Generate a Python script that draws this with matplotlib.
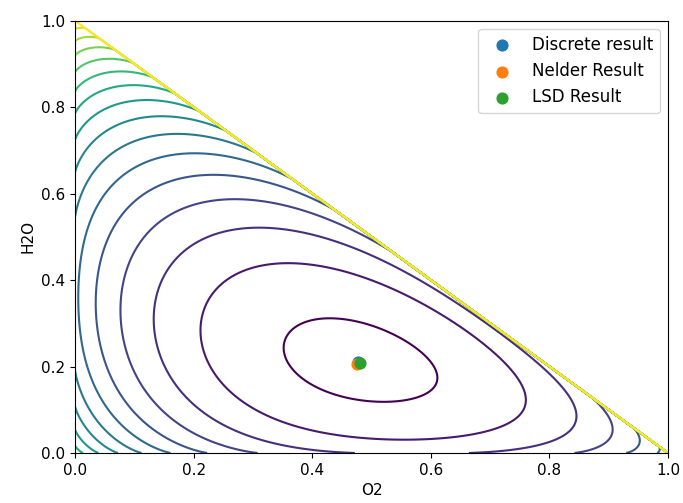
import numpy as np
import matplotlib
matplotlib.use("Agg")
import matplotlib.pyplot as plt

# points picked off the contour lines of the reference: O2, H2O, contour number (1 = innermost)
trace_o2 = [0.346, 0.62, 0.42, 0.53,
            0.219, 0.756, 0.351, 0.379, 0.632,
            0.143, 0.295, 0.379, 0.553, 0.627, 0.843, 0.776, 0.60, 0.65, 0.70, 0.75, 0.80,
            0.093, 0.261, 0.337, 0.837, 0.905, 0.509, 0.885,
            0.051, 0.051, 0.233, 0.241, 0.925, 0.953, 0.42, 0.949,
            0.020, 0.017, 0.211, 0.174, 0.981, 0.987, 0.351, 0.983, 0.0,
            0.003, 0.0, 0.118, 0.0, 0.177, 0.298,
            0.0, 0.076, 0.0, 0.16, 0.25,
            0.0, 0.039, 0.0, 0.205,
            0.0, 0.005, 0.0,
            0.0, 0.0, 0.0, 0.0, 0.0]
trace_h2o = [0.243, 0.176, 0.317, 0.116,
             0.21, 0.10, 0.435, 0.069, 0.035,
             0.21, 0.516, 0.018, 0.0, 0.0, 0.09, 0.21, 0.39, 0.34, 0.29, 0.24, 0.19,
             0.21, 0.582, 0.0, 0.0, 0.053, 0.491, 0.115,
             0.21, 0.40, 0.632, 0.0, 0.0, 0.026, 0.58, 0.051,
             0.21, 0.40, 0.682, 0.0, 0.0, 0.007, 0.649, 0.017, 0.52,
             0.21, 0.245, 0.0, 0.585, 0.725, 0.702,
             0.116, 0.0, 0.659, 0.767, 0.75,
             0.046, 0.0, 0.728, 0.795,
             0.01, 0.0, 0.782,
             0.833, 0.877, 0.917, 0.952, 0.983]
trace_level = [1, 1, 1, 1,
               2, 2, 2, 2, 2,
               3, 3, 3, 3, 3, 3, 3, 3, 3, 3, 3, 3,
               4, 4, 4, 4, 4, 4, 4,
               5, 5, 5, 5, 5, 5, 5, 5,
               6, 6, 6, 6, 6, 6, 6, 6, 6,
               7, 7, 7, 7, 7, 7,
               8, 8, 8, 8, 8,
               9, 9, 9, 9,
               10, 10, 10,
               11, 12, 13, 14, 15]

# optimiser results (they sit almost on top of each other)
result_labels = ['Discrete result', 'Nelder Result', 'LSD Result']
result_o2 = [0.478, 0.476, 0.480]
result_h2o = [0.211, 0.205, 0.208]
best = [0.48, 0.21, 0.31]  # O2, H2O, rest at the optimum

contour_levels = np.arange(1, 17)


def xlogx(v):
    v = np.clip(np.asarray(v, float), 0, None)
    out = np.zeros_like(v)
    m = v > 0
    out[m] = v[m] * np.log(v[m])
    return out


def divergence(o2, h2o):
    # KL divergence of the composition from the optimum, in contour steps
    o2 = np.asarray(o2, float)
    h2o = np.asarray(h2o, float)
    rest = 1 - o2 - h2o
    kl = (xlogx(o2) + xlogx(h2o) + xlogx(rest)
          - o2 * np.log(best[0]) - h2o * np.log(best[1]) - rest * np.log(best[2]))
    return (kl - 0.06) / 0.115 + 1


def bend(o2, h2o):
    dx = np.asarray(o2, float) - best[0]
    dy = np.asarray(h2o, float) - best[1]
    return np.stack([np.ones_like(dx), dx * dx, dx * dy, dy * dy,
                     dx**3, dx * dx * dy, dx * dy * dy, dy**3], axis=-1)


# correction so the surface passes through the traced points
# (innermost ring counted a bit more, it is the clearest one)
w = np.where(np.array(trace_level) == 1, 3.0, 1.0)
base = divergence(trace_o2, trace_h2o)
coef = np.linalg.lstsq(bend(trace_o2, trace_h2o) * w[:, None],
                       (np.array(trace_level) - base) * w, rcond=None)[0]

grid = np.linspace(0, 1, 500)
X, Y = np.meshgrid(grid, grid)
Z = divergence(X, Y) + bend(X, Y) @ coef
Z[X + Y > 1 + 1e-9] = 100  # infeasible compositions

plt.rcParams['font.size'] = 11

fig, ax = plt.subplots(figsize=(6.83, 5.03), dpi=100)
fig.subplots_adjust(left=0.1098, right=0.978, bottom=0.0994, top=0.959)

ax.contour(X, Y, Z, levels=contour_levels, cmap='viridis')
for lab, xo, yo in zip(result_labels, result_o2, result_h2o):
    ax.scatter(xo, yo, s=60, label=lab)

ax.set_xlim(0, 1)
ax.set_ylim(0, 1)
ax.set_xlabel('O2')
ax.set_ylabel('H2O')
ax.legend(loc='upper right', fontsize=12)

fig.savefig('out.png')
